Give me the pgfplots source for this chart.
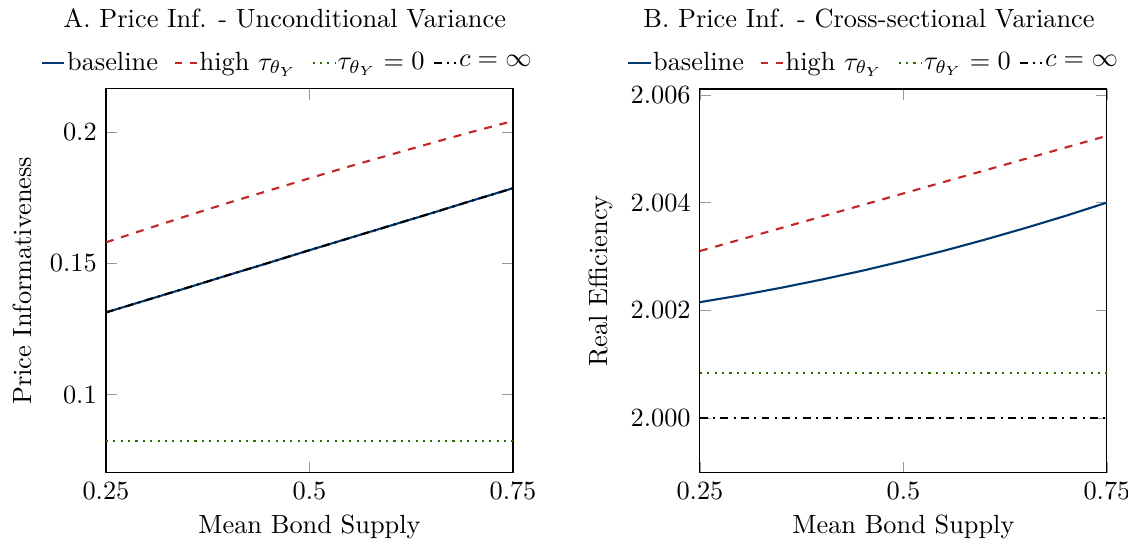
\documentclass[border=0pt]{standalone}
\usepackage{pgfplots}
\pgfplotsset{compat=1.18}
\definecolor{cblue}{RGB}{0,56,111}
\definecolor{cred}{RGB}{195,38,38}
\definecolor{cgreen}{RGB}{40,110,0}
\pgfplotsset{
  panel/.style={
    scale only axis,
    width=154.6pt, height=145.8pt,
    xmin=0.25, xmax=0.75,
    xtick={0.25,0.5,0.75},
    xticklabels={0.25,0.5,0.75},
    major tick style={gray!80},
    xlabel={Mean Bond Supply},
    xlabel style={yshift=1.5pt},
    legend columns=4,
    legend image code/.code={\draw[#1] (0cm,0cm) -- (0.3cm,0cm);},
    legend style={draw=none, fill=none, at={(0,1)}, anchor=south west,
      nodes={inner xsep=0.6pt, inner ysep=2pt},
      /tikz/column 2/.style={column sep=5.3pt},
      /tikz/column 4/.style={column sep=5.0pt},
      /tikz/column 6/.style={column sep=2.5pt}},
    every axis plot/.append style={thick},
  }
}
\begin{document}
\begin{tikzpicture}
\begin{axis}[panel, at={(0,0)}, anchor=south west,
  ymin=0.0702, ymax=0.2164,
  ytick={0.1,0.15,0.2},
  yticklabels={0.1,0.15,0.2},
  ylabel={Price Informativeness},
  title={A. Price Inf. - Unconditional Variance},
  title style={at={(0,1)}, anchor=base west, xshift=-19.6pt, yshift=17.2pt},
  legend style={xshift=-27.9pt, yshift=1.5pt},
]
\addplot[cblue, solid] coordinates {
(0.25,0.1313) (0.30,0.1360) (0.35,0.1407) (0.40,0.1455) (0.45,0.1502) (0.50,0.1550)
(0.55,0.1597) (0.60,0.1644) (0.65,0.1691) (0.70,0.1739) (0.75,0.1786)};
\addlegendentry{baseline}
\addplot[cred, dashed] coordinates {
(0.25,0.1580) (0.30,0.1631) (0.35,0.1681) (0.40,0.1730) (0.45,0.1777) (0.50,0.1824)
(0.55,0.1870) (0.60,0.1914) (0.65,0.1958) (0.70,0.2001) (0.75,0.2042)};
\addlegendentry{high $\tau_{\theta_Y}$}
\addplot[cgreen, dotted] coordinates {(0.25,0.0824) (0.50,0.0824) (0.75,0.0824)};
\addlegendentry{$\tau_{\theta_Y}=0$}
\addplot[black, dashdotted] coordinates {
(0.25,0.1313) (0.30,0.1360) (0.35,0.1407) (0.40,0.1455) (0.45,0.1502) (0.50,0.1550)
(0.55,0.1597) (0.60,0.1644) (0.65,0.1691) (0.70,0.1739) (0.75,0.1786)};
\addlegendentry{$c=\infty$}
\end{axis}
\begin{axis}[panel, at={(225.6pt,0)}, anchor=south west,
  ymin=1.99898, ymax=2.00611,
  ytick={2.000,2.002,2.004,2.006},
  yticklabels={2.000,2.002,2.004,2.006},
  ylabel={Real Efficiency},
  title={B. Price Inf. - Cross-sectional Variance},
  title style={at={(0,1)}, anchor=base west, xshift=-25pt, yshift=17.2pt},
  legend style={xshift=-30.9pt, yshift=1.5pt},
]
\addplot[cblue, solid] coordinates {
(0.25,2.002150) (0.30,2.002277) (0.35,2.002418) (0.40,2.002571) (0.45,2.002736) (0.50,2.002915)
(0.55,2.003106) (0.60,2.003311) (0.65,2.003528) (0.70,2.003757) (0.75,2.004000)};
\addlegendentry{baseline}
\addplot[cred, dashed] coordinates {
(0.25,2.003100) (0.30,2.003314) (0.35,2.003528) (0.40,2.003742) (0.45,2.003956) (0.50,2.004170)
(0.55,2.004384) (0.60,2.004598) (0.65,2.004812) (0.70,2.005026) (0.75,2.005240)};
\addlegendentry{high $\tau_{\theta_Y}$}
\addplot[cgreen, dotted] coordinates {(0.25,2.00084) (0.50,2.00084) (0.75,2.00084)};
\addlegendentry{$\tau_{\theta_Y}=0$}
\addplot[black, dashdotted] coordinates {(0.25,2.0000) (0.50,2.0000) (0.75,2.0000)};
\addlegendentry{$c=\infty$}
\end{axis}
\pgfresetboundingbox
\useasboundingbox (-40.26pt,-25.45pt) rectangle (388.2pt,179.6pt);
\end{tikzpicture}
\end{document}
